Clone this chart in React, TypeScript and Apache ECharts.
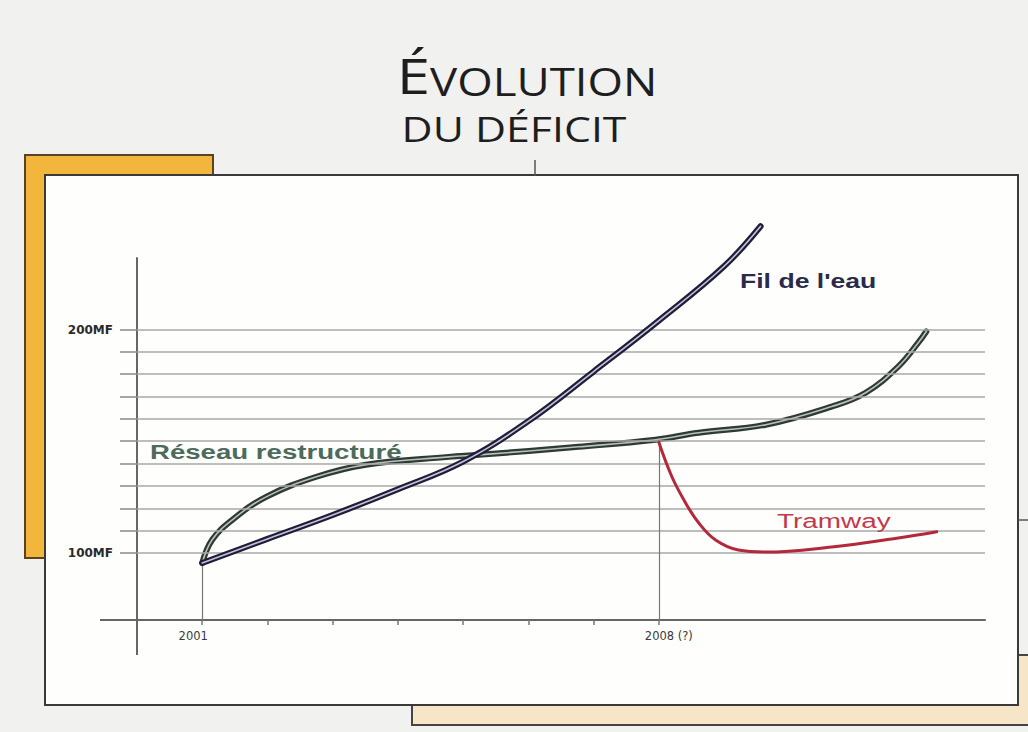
import React, { useEffect, useRef } from "react";
import * as echarts from "echarts";

// ---- data ----
const filYears = [2001, 2002, 2003, 2004, 2005, 2006, 2007, 2008, 2009, 2009.56];
const filValues = [95.5, 106.3, 117, 128.5, 140.9, 159, 181.2, 204, 228.3, 246.2];

const reseauYears = [2001, 2001.15, 2001.46, 2001.98, 2002.75, 2003.51, 2004.78, 2005.24, 2006.77, 2007.95, 2008.61, 2009.64, 2010.65, 2011.17, 2011.67, 2011.98, 2012.1];
const reseauValues = [95.5, 105.8, 114.8, 125.1, 134.1, 139.5, 143, 143.9, 147.5, 150.7, 153.8, 157.4, 165.5, 171.7, 183.4, 194.2, 199.1];

const tramYears = [2008, 2008.2, 2008.41, 2008.61, 2008.87, 2009.22, 2009.64, 2010.65, 2011.67, 2012.26];
const tramValues = [149.5, 134.1, 122.4, 113.5, 105.8, 101.3, 100.4, 102.7, 106.7, 109.5];

const gridValues = [100, 110, 120, 130, 140, 150, 160, 170, 180, 190, 200];
const yLabelValues = [100, 200];
const xTickYears = [2001, 2002, 2003, 2004, 2005, 2006, 2007, 2008];
const xLabelYears = [2001, 2008];
const xLabelTexts: Record<number, string> = { 2001: "{a|2001}", 2008: "{b|2008 (?)}" };

const pairs = (xs: number[], ys: number[]) => xs.map((x, i) => [x, ys[i]]);

const curve = (name: string, xs: number[], ys: number[], color: string, width: number, z: number) => ({
  name,
  type: "line",
  data: pairs(xs, ys),
  smooth: 0.4,
  showSymbol: false,
  clip: false,
  lineStyle: { color, width, cap: "round", join: "round" },
  z,
});

export default function App() {
  const ref = useRef<HTMLDivElement>(null);

  useEffect(() => {
    if (!ref.current) return;
    const chart = echarts.init(ref.current, undefined, { renderer: "svg" });

    const labelFont = { fontFamily: "DejaVu Sans", fontSize: 11.5, color: "#3a3a3a" };

    const option: any = {
      animation: false,
      backgroundColor: "#f1f1ef",
      grid: { left: 137, right: 43, top: 258, bottom: 112, containLabel: false },
      xAxis: {
        type: "value",
        min: 2000,
        max: 2013,
        interval: 1,
        splitLine: { show: false },
        axisLine: { show: true, lineStyle: { color: "#666", width: 2 } },
        axisTick: {
          show: true,
          customValues: xTickYears,
          length: 5,
          lineStyle: { color: "#777", width: 1.5 },
        },
        axisLabel: {
          show: true,
          customValues: xLabelYears,
          formatter: (v: number) => xLabelTexts[v] ?? "",
          margin: 10,
          ...labelFont,
          rich: {
            a: { ...labelFont, padding: [0, 18, 0, 0] },
            b: { ...labelFont, padding: [0, 0, 0, 20] },
          },
        },
      },
      yAxis: {
        type: "value",
        min: 70,
        max: 232,
        interval: 10,
        splitLine: { show: false },
        axisLine: { show: true, lineStyle: { color: "#666", width: 2 } },
        axisTick: {
          show: true,
          customValues: gridValues,
          length: 17,
          lineStyle: { color: "#888", width: 1.5 },
        },
        axisLabel: {
          show: true,
          customValues: yLabelValues,
          formatter: (v: number) => v + "MF",
          color: "#2a2a2a",
          fontFamily: "DejaVu Sans",
          fontWeight: "bold",
          fontSize: 12,
          margin: 24,
        },
      },
      series: [
        {
          name: "grid",
          type: "line",
          data: [],
          markLine: {
            silent: true,
            symbol: ["none", "none"],
            label: { show: false },
            lineStyle: { color: "#a9a9a9", width: 1.5, type: "solid" },
            data: gridValues.map((v) => ({ yAxis: v })),
          },
        },
        {
          name: "drops",
          type: "line",
          data: [],
          markLine: {
            silent: true,
            symbol: ["none", "none"],
            label: { show: false },
            lineStyle: { color: "#777", width: 1.2, type: "solid" },
            data: [
              [{ coord: [filYears[0], filValues[0]] }, { coord: [filYears[0], 70] }],
              [{ coord: [tramYears[0], tramValues[0]] }, { coord: [tramYears[0], 70] }],
            ],
          },
        },
        curve("Réseau restructuré", reseauYears, reseauValues, "#2e3a33", 6, 3),
        curve("Réseau inner", reseauYears, reseauValues, "#b8c2ba", 1.6, 4),
        curve("Tramway", tramYears, tramValues, "#b3283a", 3, 5),
        curve("Fil de l'eau", filYears, filValues, "#1f1d3a", 6, 6),
        curve("Fil inner", filYears, filValues, "#c4c4d6", 1.6, 7),
      ],
      graphic: [
        {
          type: "rect",
          z: -10,
          shape: { x: 25, y: 155, width: 188, height: 403 },
          style: { fill: "#f2b63c", stroke: "#5a4420", lineWidth: 2 },
        },
        {
          type: "rect",
          z: -10,
          shape: { x: 412, y: 655, width: 700, height: 70 },
          style: { fill: "#f6e5c6", stroke: "#444", lineWidth: 2 },
        },
        {
          type: "rect",
          z: -9,
          shape: { x: 45, y: 175, width: 973, height: 530 },
          style: { fill: "#fefefc", stroke: "#3a3a3a", lineWidth: 2 },
        },
        {
          type: "line",
          z: -8,
          shape: { x1: 535, y1: 160, x2: 535, y2: 176 },
          style: { stroke: "#555", lineWidth: 1.5 },
        },
        {
          type: "line",
          z: -8,
          shape: { x1: 1018, y1: 520, x2: 1028, y2: 520 },
          style: { stroke: "#555", lineWidth: 1.5 },
        },
        {
          type: "line",
          z: 1,
          shape: { x1: 100, y1: 620, x2: 137, y2: 620 },
          style: { stroke: "#666", lineWidth: 2 },
        },
        {
          type: "line",
          z: 1,
          shape: { x1: 137, y1: 620, x2: 137, y2: 655 },
          style: { stroke: "#666", lineWidth: 2 },
        },
        {
          type: "text",
          z: 20,
          x: 527,
          y: 75,
          scaleX: 1.2,
          style: {
            text: "{a|É}{b|VOLUTION}",
            align: "center",
            verticalAlign: "middle",
            fill: "#1e1e1e",
            rich: {
              a: { fontFamily: "Open Sans", fontSize: 50, lineHeight: 50, verticalAlign: "bottom", fill: "#1e1e1e" },
              b: { fontFamily: "Open Sans", fontSize: 38, lineHeight: 50, verticalAlign: "bottom", fill: "#1e1e1e" },
            },
          },
        },
        {
          type: "text",
          z: 20,
          x: 514,
          y: 129,
          scaleX: 1.26,
          style: {
            text: "DU DÉFICIT",
            align: "center",
            verticalAlign: "middle",
            fontFamily: "Open Sans",
            fontSize: 34,
            fill: "#1e1e1e",
          },
        },
        {
          type: "text",
          z: 20,
          x: 740,
          y: 281,
          scaleX: 1.33,
          style: {
            text: "Fil de l'eau",
            align: "left",
            verticalAlign: "middle",
            fontFamily: "Liberation Sans",
            fontWeight: "bold",
            fontSize: 20,
            fill: "#2b2a4a",
          },
        },
        {
          type: "text",
          z: 20,
          x: 150,
          y: 452,
          scaleX: 1.38,
          style: {
            text: "Réseau restructuré",
            align: "left",
            verticalAlign: "middle",
            fontFamily: "Liberation Sans",
            fontWeight: "bold",
            fontSize: 20,
            fill: "#4d6a5c",
          },
        },
        {
          type: "text",
          z: 20,
          x: 777,
          y: 521,
          scaleX: 1.33,
          style: {
            text: "Tramway",
            align: "left",
            verticalAlign: "middle",
            fontFamily: "Liberation Sans",
            fontSize: 21,
            fill: "#c23a4c",
          },
        },
      ],
    };

    chart.setOption(option);
    return () => chart.dispose();
  }, []);

  return (
    <div
      ref={ref}
      style={{ position: "fixed", left: 0, top: 0, width: 1028, height: 732 }}
    />
  );
}
